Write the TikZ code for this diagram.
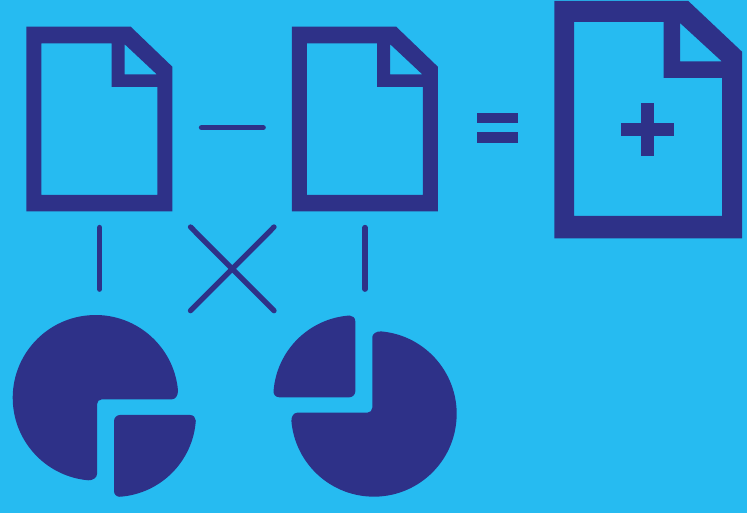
\documentclass[tikz,border=0pt]{standalone}
\definecolor{skybg}{HTML}{26BBF1}
\definecolor{inkblue}{HTML}{2E3188}
\tikzset{
  solidshape/.style={fill=inkblue,draw=none,even odd rule},
  thinbar/.style={draw=inkblue,line width=5.3pt,line cap=round},
  smalldoc/.pic={
    \fill[solidshape]
      (26.3,26.7)--(130.7,26.7)--(172.3,66.7)--(172.3,211.3)--(26.3,211.3)--cycle
      (41.3,43.3)--(111.7,43.3)--(111.7,87)--(157.3,87)--(157.3,195)--(41.3,195)--cycle
      (124.7,44.3)--(124.7,74.3)--(156.7,74.3)--cycle;
  }
}
\begin{document}
\begin{tikzpicture}[x=1pt,y=1pt]
\useasboundingbox (0,0) rectangle (747,513);
\fill[skybg] (0,0) rectangle (747,513);
\begin{scope}[shift={(0,513)},y=-1pt]
  % documents
  \pic at (0,0) {smalldoc};
  \pic at (265.5,0) {smalldoc};
  \fill[solidshape]
    (554.3,1)--(688.3,1)--(742,51.7)--(742,238.3)--(554.3,238.3)--cycle
    (574,22)--(663.7,22)--(663.7,78)--(722,78)--(722,216)--(574,216)--cycle
    (680,23)--(680,61.3)--(721.7,61.3)--cycle;
  % plus
  \fill[solidshape] (620.7,123.3) rectangle (674,136);
  \fill[solidshape] (641,103.3) rectangle (654,156.3);
  % equals
  \fill[solidshape] (477,113.3) rectangle (518.3,123.3);
  \fill[solidshape] (477,132.3) rectangle (518.3,142.7);
  % connectors
  \coordinate (minusL) at (201.5,127.7);
  \coordinate (minusR) at (263.2,127.7);
  \coordinate (xTL) at (190.5,227);
  \coordinate (xTR) at (274,227);
  \coordinate (xBL) at (190.5,310.7);
  \coordinate (xBR) at (274,310.7);
  \coordinate (vAT) at (99.7,227.5);
  \coordinate (vAB) at (99.7,289.2);
  \coordinate (vBT) at (365,227.5);
  \coordinate (vBB) at (365,289.2);
  \draw[thinbar] (minusL) -- (minusR);
  \draw[thinbar] (xTL) -- (xBR);
  \draw[thinbar] (xTR) -- (xBL);
  \draw[thinbar] (vAT) -- (vAB);
  \draw[thinbar] (vBT) -- (vBB);
\end{scope}
% pie, lower left
\fill[inkblue] (178,122.4) arc[start angle=5,end angle=265,radius=82.8pt]
  .. controls (93.1,32.5) and (97,35.5) .. (97,39) -- (97,108.7)
  .. controls (97,111.5) and (99.2,113.7) .. (102,113.7) -- (172,113.7)
  .. controls (175.5,113.7) and (178.1,117.5) .. (178,122.4) -- cycle;
\fill[inkblue] (195.8,92.3) arc[start angle=-4,end angle=-86,radius=82pt]
  .. controls (116.6,16.1) and (114,18.7) .. (114,22) -- (114,92)
  .. controls (114,95.3) and (116.7,98) .. (120,98) -- (190,98)
  .. controls (193.3,98) and (195.9,95.4) .. (195.8,92.3) -- cycle;
% pie, lower right
\fill[inkblue] (381.1,181.6) arc[start angle=85,end angle=-175,radius=82.8pt]
  .. controls (291.2,96.5) and (293.8,100.3) .. (297.3,100.3) -- (367.3,100.3)
  .. controls (370.1,100.3) and (372.3,102.5) .. (372.3,105.3) -- (372.3,175.9)
  .. controls (372.3,179.2) and (376.3,181.8) .. (381.1,181.6) -- cycle;
\fill[inkblue] (349.6,197.5) arc[start angle=94,end angle=176,radius=82pt]
  .. controls (273.4,118.3) and (276,115.7) .. (279.3,115.7) -- (349.3,115.7)
  .. controls (352.6,115.7) and (355.3,118.4) .. (355.3,121.7) -- (355.3,191.7)
  .. controls (355.3,195) and (352.7,197.6) .. (349.6,197.5) -- cycle;
\end{tikzpicture}
\end{document}
